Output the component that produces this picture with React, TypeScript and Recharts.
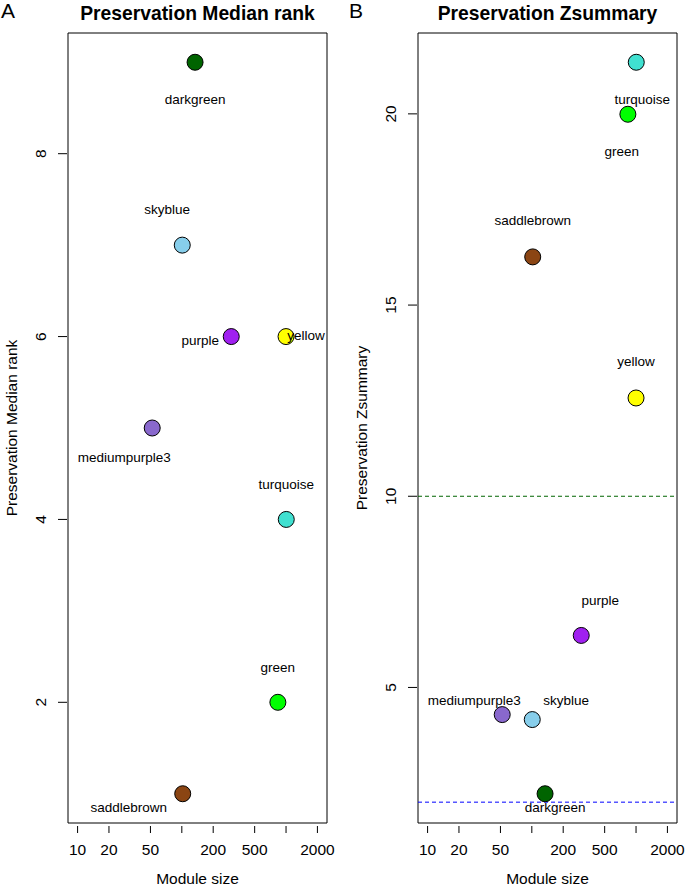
import React from "react";
import { ScatterChart, Scatter, XAxis, YAxis, ReferenceArea, ReferenceLine } from "recharts";

const modules = ["darkgreen", "skyblue", "purple", "yellow", "mediumpurple3", "turquoise", "green", "saddlebrown"];
const moduleColors = ["#006400", "#87CEEB", "#A020F0", "#FFFF00", "#8968CD", "#40E0D0", "#00FF00", "#8B4513"];
const moduleSize = [134, 101, 298, 1000, 52, 1005, 835, 102];
const medianRank = [9, 7, 6, 6, 5, 4, 2, 1];
const zSummary = [2.22, 4.16, 6.36, 12.57, 4.29, 21.35, 19.99, 16.26];

const xTicks = [10, 20, 50, 100, 200, 500, 1000, 2000];
const xTickLabels = ["10", "20", "50", "", "200", "500", "", "2000"];
const rankTicks = [2, 4, 6, 8];
const zTicks = [5, 10, 15, 20];

// label placement (pixel offsets from point centre), presentation only
const labelOffsetA: Record<string, [number, number]> = {
  darkgreen: [0, 37], skyblue: [-15, -36], purple: [-31, 4], yellow: [20, -1],
  mediumpurple3: [-28, 29], turquoise: [0, -35], green: [0, -35], saddlebrown: [-54, 14],
};
const labelOffsetB: Record<string, [number, number]> = {
  darkgreen: [10, 14], skyblue: [34, -19], purple: [19, -35], yellow: [0, -36],
  mediumpurple3: [-28, -14], turquoise: [6, 37], green: [-6, 37], saddlebrown: [0, -36],
};

const FONT = "'Liberation Sans', Arial, Helvetica, sans-serif";
const X_DOMAIN: [number, number] = [8.09, 2472];

const dataA = modules.map((m, i) => ({ name: m, color: moduleColors[i], size: moduleSize[i], value: medianRank[i], off: labelOffsetA[m] }));
const dataB = modules.map((m, i) => ({ name: m, color: moduleColors[i], size: moduleSize[i], value: zSummary[i], off: labelOffsetB[m] }));

const Dot = (props: any) => {
  const { cx, cy, payload } = props;
  return <circle cx={cx} cy={cy} r={8} fill={payload.color} stroke="#000" strokeWidth={1} />;
};
const Lbl = (props: any) => {
  const { cx, cy, payload } = props;
  return (
    <text x={cx + payload.off[0]} y={cy + payload.off[1]} textAnchor="middle" dominantBaseline="central"
      fontSize={13.5} fontFamily={FONT} fill="#000">{payload.name}</text>
  );
};

const XTick = (props: any) => {
  const { x, y, payload } = props;
  const idx = xTicks.indexOf(payload.value);
  const lbl = idx >= 0 ? xTickLabels[idx] : "";
  return (
    <g>
      <line x1={x} x2={x} y1={y + 3} y2={y + 10} stroke="#000" strokeWidth={1} />
      {lbl && <text x={x} y={y + 26} textAnchor="middle" dominantBaseline="central" fontSize={15.5} fontFamily={FONT} fill="#000">{lbl}</text>}
    </g>
  );
};
const YTick = (props: any) => {
  const { x, y, payload } = props;
  return (
    <g>
      <line x1={x - 10} x2={x - 1} y1={y} y2={y} stroke="#000" strokeWidth={1} />
      <text x={x - 27} y={y} transform={`rotate(-90 ${x - 27} ${y})`} textAnchor="middle" dominantBaseline="central"
        fontSize={15.5} fontFamily={FONT} fill="#000">{payload.value}</text>
    </g>
  );
};

const Panel = ({ data, yDomain, yTicks, width, right, lines }: any) => (
  <ScatterChart width={width} height={887} margin={{ top: 33, right, bottom: 34, left: 0 }}>
    <XAxis dataKey="size" type="number" scale="log" domain={X_DOMAIN} allowDataOverflow ticks={xTicks} interval={0}
      tick={<XTick />} tickSize={0} tickMargin={0} axisLine={false} tickLine={false} height={30} />
    <YAxis dataKey="value" type="number" domain={yDomain} allowDataOverflow ticks={yTicks} interval={0}
      tick={<YTick />} tickSize={0} tickMargin={0} axisLine={false} tickLine={false} width={68} />
    <ReferenceArea x1={X_DOMAIN[0]} x2={X_DOMAIN[1]} y1={yDomain[0]} y2={yDomain[1]} fill="none" stroke="#000" strokeWidth={1} ifOverflow="visible" />
    {lines && lines.map((l: any) => (
      <ReferenceLine key={l.y} y={l.y} stroke={l.color} strokeDasharray="4 3" strokeWidth={1} />
    ))}
    <Scatter data={data} shape={<Dot />} isAnimationActive={false} />
    <Scatter data={data} shape={<Lbl />} isAnimationActive={false} />
  </ScatterChart>
);

const txt = (style: React.CSSProperties, s: string) => (
  <div style={{ position: "absolute", fontFamily: FONT, color: "#000", whiteSpace: "nowrap", lineHeight: 1, ...style }}>{s}</div>
);

export default function App() {
  return (
    <div style={{ position: "absolute", left: 0, top: 0, width: 685, height: 887, background: "#fff" }}>
      <div style={{ position: "absolute", left: 0, top: 0 }}>
        <Panel data={dataA} yDomain={[0.68, 9.32]} yTicks={rankTicks} width={342} right={15} />
      </div>
      <div style={{ position: "absolute", left: 350, top: 0 }}>
        <Panel data={dataB} yDomain={[1.455, 22.115]} yTicks={zTicks} width={335} right={8}
          lines={[{ y: 10, color: "#006400" }, { y: 2, color: "#0000FF" }]} />
      </div>
      {txt({ left: 1, top: 0, fontSize: 21 }, "A")}
      {txt({ left: 349, top: 0, fontSize: 21 }, "B")}
      {txt({ left: 197.5, top: 14, fontSize: 19.3, fontWeight: "bold", transform: "translate(-50%, -50%)" }, "Preservation Median rank")}
      {txt({ left: 547.5, top: 14, fontSize: 19.3, fontWeight: "bold", transform: "translate(-50%, -50%)" }, "Preservation Zsummary")}
      {txt({ left: 197.5, top: 879, fontSize: 15.5, transform: "translate(-50%, -50%)" }, "Module size")}
      {txt({ left: 547.5, top: 879, fontSize: 15.5, transform: "translate(-50%, -50%)" }, "Module size")}
      {txt({ left: 12, top: 428, fontSize: 15.5, transform: "translate(-50%, -50%) rotate(-90deg)" }, "Preservation Median rank")}
      {txt({ left: 362, top: 428, fontSize: 15.5, transform: "translate(-50%, -50%) rotate(-90deg)" }, "Preservation Zsummary")}
    </div>
  );
}
